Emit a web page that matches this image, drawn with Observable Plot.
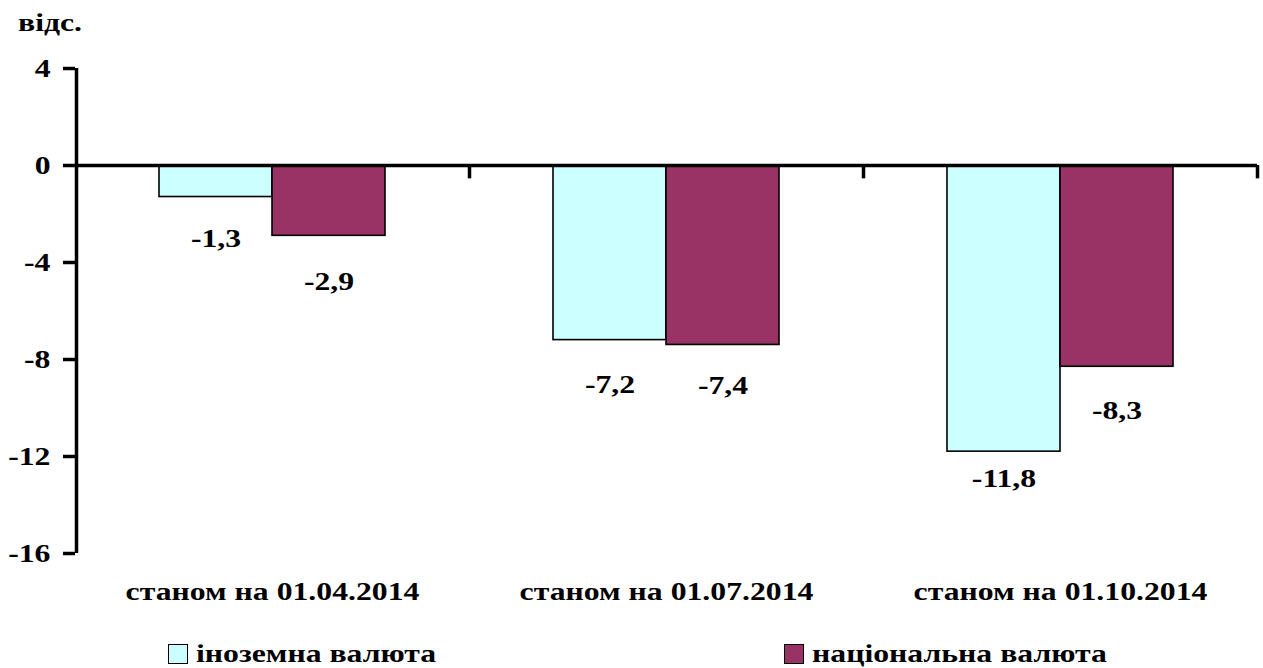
<!DOCTYPE html>
<html>
<head>
<meta charset="utf-8">
<script src="https://cdn.jsdelivr.net/npm/d3@7"></script>
<script src="https://cdn.jsdelivr.net/npm/@observablehq/plot@0.6"></script>
<style>
  html, body { margin: 0; padding: 0; background: #fff; }
  body { width: 1263px; height: 668px; position: relative; overflow: hidden;
         font-family: "Liberation Serif", serif; font-weight: bold; color: #000; }
  #title { position: absolute; left: 18px; top: 9px; font-size: 26px; line-height: 1.1;
           transform: scaleX(1.22); transform-origin: left center; }
  #chart { position: absolute; left: 0; top: 0; }
  .legend { position: absolute; top: 640px; font-size: 26px; line-height: 1.1; display: flex; align-items: center; }
  .legend span { display: inline-block; transform: scaleX(1.22); transform-origin: left center; }
  .sw { width: 18px; height: 18px; border: 1.5px solid #000; margin-right: 8px; }
</style>
</head>
<body>
<div id="title">відс.</div>
<div id="chart"></div>
<div class="legend" style="left:168px"><div class="sw" style="background:#CCFFFF"></div><span>іноземна валюта</span></div>
<div class="legend" style="left:784px"><div class="sw" style="background:#993366"></div><span>національна валюта</span></div>
<script>
const categories = ["станом на 01.04.2014", "станом на 01.07.2014", "станом на 01.10.2014"];
const series = ["іноземна валюта", "національна валюта"];
const foreignValues = [-1.3, -7.2, -11.8];
const nationalValues = [-2.9, -7.4, -8.3];
const yTicks = [4, 0, -4, -8, -12, -16];
const colors = ["#CCFFFF", "#993366"];

const foreign = categories.map((c, i) => ({category: c, series: series[0], value: foreignValues[i]}));
const national = categories.map((c, i) => ({category: c, series: series[1], value: nationalValues[i]}));

const W = 1263, H = 610, mL = 75, mR = 6, mT = 68, mB = 57;
const bw = (W - mL - mR) / categories.length;
const barW = 113;
const fmt = v => String(v).replace(".", ",");
const font = "Liberation Serif, serif";
// label offsets below the bar ends, as placed in the original
const foreignDy = [42, 45, 27];
const nationalDy = [46, 41, 44];

const labelMarks = [];
foreign.forEach((d, i) => labelMarks.push(Plot.text([d], {x: "category", y: "value", text: d => fmt(d.value),
  dx: -barW / 2, dy: foreignDy[i], fontSize: 26, fill: "#000"})));
national.forEach((d, i) => labelMarks.push(Plot.text([d], {x: "category", y: "value", text: d => fmt(d.value),
  dx: barW / 2, dy: nationalDy[i], fontSize: 26, fill: "#000"})));

const chart = Plot.plot({
  width: W, height: H,
  marginLeft: mL, marginRight: mR, marginTop: mT, marginBottom: mB,
  style: {fontFamily: font, fontWeight: "bold", fontSize: "26px", color: "#000", background: "transparent"},
  x: {domain: categories, padding: 0, axis: null},
  y: {domain: [-16, 4], axis: null},
  marks: [
    Plot.barY(foreign, {x: "category", y: "value", fill: colors[0], stroke: "#000", strokeWidth: 1.6,
      insetLeft: bw / 2 - barW, insetRight: bw / 2}),
    Plot.barY(national, {x: "category", y: "value", fill: colors[1], stroke: "#000", strokeWidth: 1.6,
      insetLeft: bw / 2, insetRight: bw / 2 - barW}),
    Plot.ruleY([0], {stroke: "#000", strokeWidth: 3.5}),
    Plot.ruleX(categories, {x: d => d, y1: 0, y2: -0.55, dx: bw / 2, stroke: "#000", strokeWidth: 3.5}),
    Plot.ruleX([categories[0]], {x: d => d, y1: 4, y2: -16, dx: -bw / 2 + 1, stroke: "#000", strokeWidth: 3.5}),
    Plot.axisY({ticks: yTicks, tickSize: 12, tickPadding: 13, strokeWidth: 3.5, fontSize: 26,
      tickFormat: d => String(d), label: null}),
    Plot.axisX({anchor: "bottom", tickSize: 0, tickPadding: 28, fontSize: 26, label: null}),
    ...labelMarks
  ]
});
// the original's lettering is horizontally stretched: widen each text around its anchor
chart.querySelectorAll("text").forEach(t => {
  const tr = t.getAttribute("transform");
  if (tr) {
    t.setAttribute("transform", tr + " scale(1.22,1)");
  } else {
    const x = +t.getAttribute("x") || 0, y = +t.getAttribute("y") || 0;
    t.removeAttribute("x"); t.removeAttribute("y");
    t.setAttribute("transform", `translate(${x},${y}) scale(1.22,1)`);
  }
});
document.getElementById("chart").appendChild(chart);
</script>
</body>
</html>
